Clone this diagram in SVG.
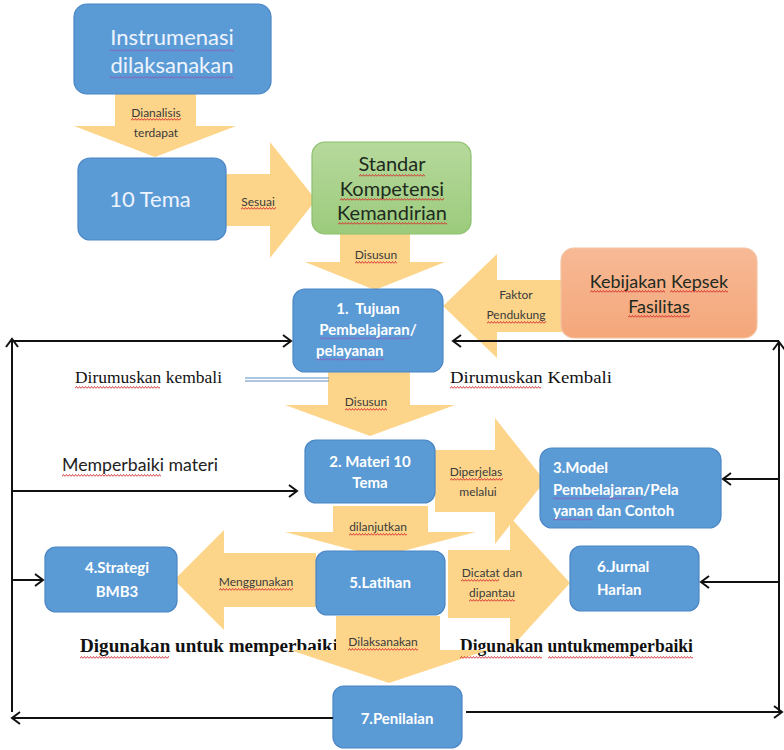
<svg xmlns="http://www.w3.org/2000/svg" width="784" height="750" viewBox="0 0 784 750">
<defs>
<style>
.box{fill:#5B9BD5;stroke:#4A86C5;stroke-width:1.2}
.arr{fill:#FDD58A}
.s{font-family:Lato,"Liberation Sans",sans-serif}
.lbl{font-size:12px;fill:#3a3a3a;text-anchor:middle}
.wb{font-size:15px;font-weight:bold;fill:#fff}
.big{font-size:22px;fill:#EEF4FF;text-anchor:middle}
.dk{fill:#1e2a1e;text-anchor:middle}
.serif{font-family:"Liberation Serif",serif;fill:#111}
.ln{fill:none;stroke:#111;stroke-width:2;marker-end:url(#ah)}
.r{fill:url(#wr);height:3px}
.p{fill:url(#wp);height:3px}
</style>
<marker id="ah" markerUnits="userSpaceOnUse" markerWidth="12" markerHeight="14" refX="9" refY="7" orient="auto">
<path d="M1,1 L9,7 L1,13" fill="none" stroke="#111" stroke-width="2"/>
</marker>
<pattern id="wr" patternUnits="userSpaceOnUse" width="3" height="3">
<path d="M0,2.5 L1.5,0.5 L3,2.5" fill="none" stroke="#d42a2a" stroke-width="0.9"/>
</pattern>
<pattern id="wp" patternUnits="userSpaceOnUse" width="3" height="3">
<path d="M0,2.5 L1.5,0.5 L3,2.5" fill="none" stroke="#8a5cb8" stroke-width="0.9"/>
</pattern>
<linearGradient id="gg" x1="0" y1="0" x2="0" y2="1"><stop offset="0" stop-color="#B6D99C"/><stop offset="1" stop-color="#9CCB7C"/></linearGradient>
<linearGradient id="og" x1="0" y1="0" x2="0" y2="1"><stop offset="0" stop-color="#F7B995"/><stop offset="1" stop-color="#F4A77A"/></linearGradient>
</defs>
<rect width="784" height="750" fill="#fff"/>

<g id="arrows">
<polygon id="a-dianalisis" class="arr" points="115,94 196,94 196,126 236,126 155,157 74,126 115,126"/>
<polygon id="a-sesuai" class="arr" points="226,174 270,174 270,142 316,200 270,258 270,226 226,226"/>
<polygon id="a-disusun1" class="arr" points="340,233 410,233 410,262 445,262 375,290 305,262 340,262"/>
<polygon id="a-faktor" class="arr" points="562,280 497,280 497,254 443,306 497,358 497,332 562,332"/>
<polygon id="a-disusun2" class="arr" points="328,372 410,372 410,405 455,405 370,436 285,405 328,405"/>
<polygon id="a-dicatat" class="arr" points="448,550 510,550 510,517 570,583 510,649 510,618 448,618"/>
<polygon id="a-diperjelas" class="arr" points="435,450 495,450 495,418 545,481 495,544 495,512 435,512"/>
<polygon id="a-menggunakan" class="arr" points="316,553 224,553 224,530 174,580 224,630 224,607 316,607"/>
</g>

<g id="n-instrumenasi">
<rect class="box" x="74" y="4" width="197" height="90" rx="13"/>
<text class="s big" x="172" y="45">Instrumenasi</text>
<text class="s big" x="172" y="73">dilaksanakan</text>
</g>
<g id="n-10tema">
<rect class="box" x="78" y="158" width="148" height="82" rx="12"/>
<text class="s big" x="150" y="207">10 Tema</text>
</g>
<g id="n-standar">
<rect x="312" y="142" width="159" height="92" rx="13" fill="url(#gg)" stroke="#8CBF6E" stroke-width="1.2"/>
<text class="s dk" font-size="20" x="392" y="171">Standar</text>
<text class="s dk" font-size="20" x="392" y="196">Kompetensi</text>
<text class="s dk" font-size="20" x="392" y="220">Kemandirian</text>
</g>
<g id="n-kebijakan">
<rect x="561" y="248" width="196" height="90" rx="13" fill="url(#og)" stroke="#F3C3A3" stroke-width="1.2"/>
<text class="s dk" font-size="18" x="659" y="288" fill="#2a2a2a">Kebijakan Kepsek</text>
<text class="s dk" font-size="18" x="659" y="313" fill="#2a2a2a">Fasilitas</text>
</g>
<g id="n-tujuan">
<rect class="box" x="293" y="289" width="150" height="83" rx="12"/>
<text class="s wb" x="368" y="314" text-anchor="middle" xml:space="preserve">1.  Tujuan</text>
<text class="s wb" x="368" y="335" text-anchor="middle">Pembelajaran/</text>
<text class="s wb" x="316" y="356">pelayanan</text>
</g>
<g id="n-materi">
<rect class="box" x="305" y="440" width="130" height="63" rx="11"/>
<text class="s wb" x="370" y="467" text-anchor="middle">2. Materi 10</text>
<text class="s wb" x="370" y="488" text-anchor="middle">Tema</text>
</g>
<g id="n-model">
<rect class="box" x="540" y="448" width="181" height="80" rx="12"/>
<text class="s wb" x="553" y="473">3.Model</text>
<text class="s wb" x="553" y="495">Pembelajaran/Pela</text>
<text class="s wb" x="553" y="516">yanan dan Contoh</text>
</g>

<g id="arrows2">
<polygon id="a-dilanjutkan" class="arr" points="333,506 428,506 428,532 476,532 380,557 285,532 333,532"/>
</g>

<g id="n-latihan">
<rect class="box" x="316" y="551" width="129" height="64" rx="11"/>
<text class="s wb" x="380" y="588" text-anchor="middle">5.Latihan</text>
</g>
<g id="n-strategi">
<rect class="box" x="45" y="547" width="132" height="65" rx="11"/>
<text class="s wb" x="117" y="573" text-anchor="middle">4.Strategi</text>
<text class="s wb" x="117" y="597" text-anchor="middle">BMB3</text>
</g>
<g id="n-jurnal">
<rect class="box" x="570" y="546" width="129" height="65" rx="11"/>
<text class="s wb" x="597" y="572">6.Jurnal</text>
<text class="s wb" x="597" y="595">Harian</text>
</g>

<g id="texts">
<text class="serif" x="75" y="383" font-size="17" textLength="147" lengthAdjust="spacingAndGlyphs">Dirumuskan kembali</text>
<text class="serif" x="450" y="383" font-size="17" textLength="162" lengthAdjust="spacingAndGlyphs">Dirumuskan Kembali</text>
<text class="s" x="62" y="471" font-size="17" fill="#222" textLength="156" lengthAdjust="spacingAndGlyphs">Memperbaiki materi</text>
<text class="serif" x="80" y="652" font-size="18" font-weight="bold" textLength="258" lengthAdjust="spacingAndGlyphs">Digunakan untuk memperbaiki</text>
<text class="serif" x="460" y="652" font-size="18" font-weight="bold" textLength="233" lengthAdjust="spacingAndGlyphs">Digunakan untukmemperbaiki</text>
</g>

<g id="arrows3">
<polygon id="a-dilaksanakan" class="arr" points="336,616 440,616 440,650 488,650 389,683 290,650 336,650"/>
</g>

<g id="n-penilaian">
<rect class="box" x="333" y="686" width="129" height="62" rx="11"/>
<text class="s wb" x="397" y="724" text-anchor="middle">7.Penilaian</text>
</g>

<g id="arrow-labels" class="s lbl">
<text x="156" y="117">Dianalisis</text>
<text x="156" y="137">terdapat</text>
<text x="258" y="206">Sesuai</text>
<text x="376" y="259">Disusun</text>
<text x="516" y="299">Faktor</text>
<text x="516" y="319">Pendukung</text>
<text x="366" y="406">Disusun</text>
<text x="476" y="476">Diperjelas</text>
<text x="478" y="496">melalui</text>
<text x="378" y="531">dilanjutkan</text>
<text x="256" y="586">Menggunakan</text>
<text x="492" y="577">Dicatat dan</text>
<text x="492" y="597">dipantau</text>
<text x="383" y="646">Dilaksanakan</text>
</g>

<g id="spelling-marks">
<rect class="p" transform="translate(110,49)" width="124"/>
<rect class="p" transform="translate(110,76)" width="124"/>
<rect class="r" transform="translate(359,174)" width="66"/>
<rect class="r" transform="translate(340,198)" width="104"/>
<rect class="r" transform="translate(338,222)" width="109"/>
<rect class="r" transform="translate(590,290)" width="75"/>
<rect class="r" transform="translate(670,290)" width="58"/>
<rect class="r" transform="translate(628,315)" width="62"/>
<rect class="p" transform="translate(320,337)" width="90"/>
<rect class="p" transform="translate(316,358)" width="68"/>
<rect class="p" transform="translate(553,497)" width="89"/>
<rect class="p" transform="translate(553,518)" width="40"/>
<rect class="r" transform="translate(131,118)" width="50"/>
<rect class="r" transform="translate(241,207)" width="35"/>
<rect class="r" transform="translate(355,261)" width="42"/>
<rect class="r" transform="translate(487,321)" width="59"/>
<rect class="r" transform="translate(345,408)" width="42"/>
<rect class="r" transform="translate(450,478)" width="53"/>
<rect class="r" transform="translate(349,533)" width="58"/>
<rect class="r" transform="translate(219,588)" width="74"/>
<rect class="r" transform="translate(461,579)" width="38"/>
<rect class="r" transform="translate(469,599)" width="46"/>
<rect class="r" transform="translate(348,648)" width="70"/>
<rect class="r" transform="translate(75,386)" width="85"/>
<rect class="r" transform="translate(450,386)" width="91"/>
<rect class="r" transform="translate(62,474)" width="99"/>
<rect class="r" transform="translate(80,656)" width="89"/>
<rect class="r" transform="translate(460,656)" width="82"/>
<rect class="r" transform="translate(548,656)" width="145"/>
</g>

<g id="connectors">
<path d="M245,378 H329 M245,381 H329" fill="none" stroke="#5E8CC0" stroke-width="1"/>
<path class="ln" d="M12,712 V339"/>
<path class="ln" d="M12,341 H291"/>
<path class="ln" d="M12,491 H297"/>
<path class="ln" d="M12,580 H43"/>
<path class="ln" d="M333,718 H12"/>
<path class="ln" d="M466,712 H782"/>
<path class="ln" d="M779,712 V342"/>
<path class="ln" d="M779,341 H453"/>
<path class="ln" d="M779,479 H723"/>
<path class="ln" d="M779,582 H701"/>
</g>
</svg>
